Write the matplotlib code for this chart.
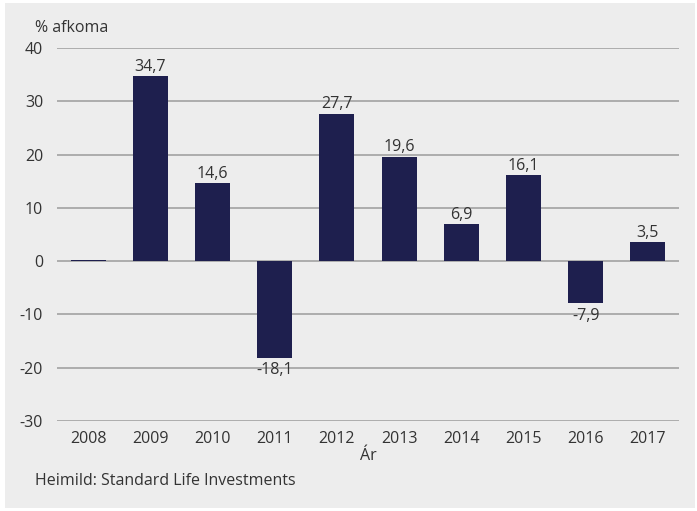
import matplotlib.pyplot as plt
from matplotlib.patches import Rectangle

plt.rcParams['font.family'] = ['Open Sans', 'DejaVu Sans']

# Ársávöxtun
years = ['2008', '2009', '2010', '2011', '2012', '2013', '2014', '2015', '2016', '2017']
returns = [0.2, 34.7, 14.6, -18.1, 27.7, 19.6, 6.9, 16.1, -7.9, 3.5]
labels = ['', '34,7', '14,6', '-18,1', '27,7', '19,6', '6,9', '16,1', '-7,9', '3,5']
yticks = [-30, -20, -10, 0, 10, 20, 30, 40]

bg = '#ededed'
navy = '#1e1f4e'
text_col = '#333333'
fs = 11.5

fig = plt.figure(figsize=(6.97, 5.11), dpi=100)
fig.patch.set_facecolor('white')
fig.patches.append(Rectangle((5 / 697, 3 / 511), 690 / 697, 505 / 511,
                             transform=fig.transFigure, facecolor=bg,
                             edgecolor='none', zorder=-5))

ax = fig.add_axes([57 / 697, 1 - 421 / 511, 622 / 697, 373 / 511])
ax.set_facecolor('none')

x = list(range(len(years)))
ax.bar(x, returns, width=0.56, color=navy, zorder=3)

for xi, v, lab in zip(x, returns, labels):
    if not lab:
        continue
    if v >= 0:
        ax.text(xi, v + 0.3, lab, ha='center', va='bottom', fontsize=fs, color=text_col)
    else:
        ax.text(xi, v - 0.9, lab, ha='center', va='top', fontsize=fs, color=text_col)

ax.set_ylim(-30, 40)
ax.set_xlim(-0.5, len(years) - 0.5)
ax.set_yticks(yticks)
ax.set_yticklabels([str(t) for t in yticks])
ax.set_xticks(x)
ax.set_xticklabels(years)
ax.grid(axis='y', color='#a8a8a8', linewidth=1.3, zorder=1)
ax.tick_params(axis='both', length=0, labelsize=fs, colors=text_col)
ax.tick_params(axis='y', pad=10)
ax.tick_params(axis='x', pad=7)
for s in ax.spines.values():
    s.set_visible(False)

fig.text(35 / 697, 1 - 28 / 511, '% afkoma', fontsize=fs, color=text_col, va='center')
fig.text(368 / 697, 1 - 456 / 511, 'Ár', fontsize=fs, color=text_col, ha='center', va='center')
fig.text(35 / 697, 1 - 481 / 511, 'Heimild: Standard Life Investments', fontsize=fs,
         color=text_col, va='center')

fig.savefig('out.png', dpi=100, facecolor='white')
